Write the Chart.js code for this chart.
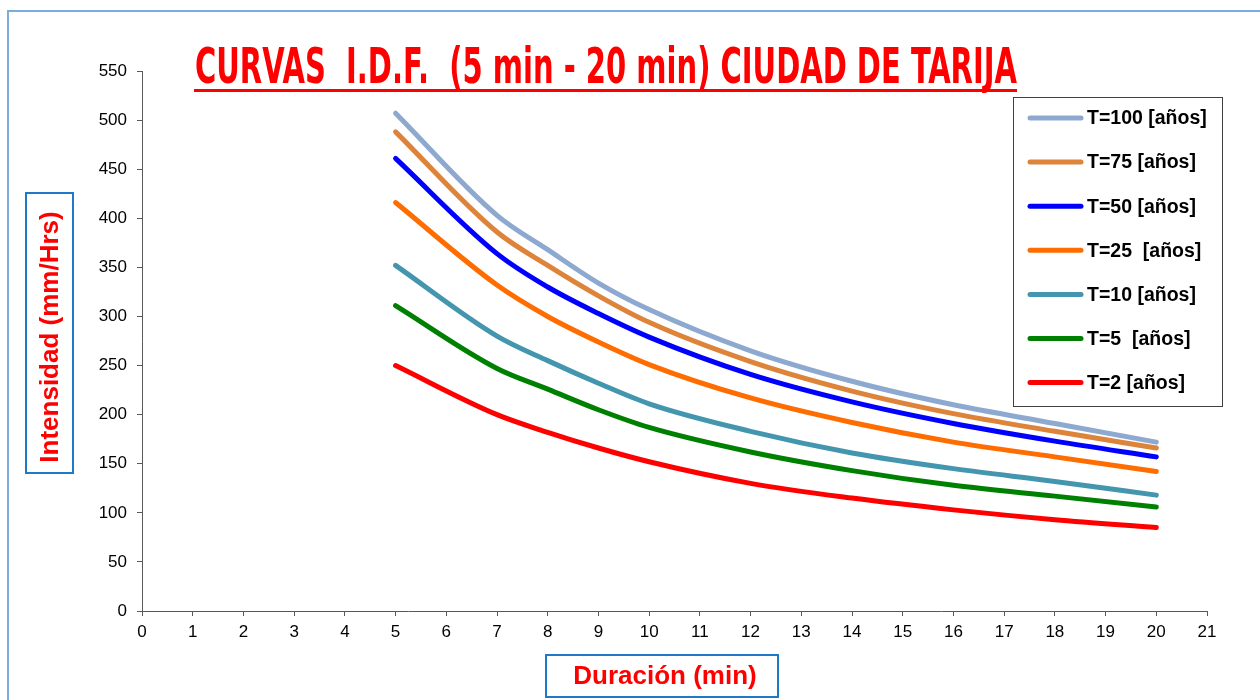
<!DOCTYPE html>
<html lang="es">
<head>
  <meta charset="UTF-8">
  <title>Curvas IDF - Tarija</title>
  <script src="https://cdn.jsdelivr.net/npm/chart.js"></script>
  <style>
    html, body { margin: 0; padding: 0; background: #fff; }
    #wrap { width: 1260px; height: 700px; position: relative; overflow: hidden; }
  </style>
</head>
<body>
<div id="wrap">
  <canvas id="idfChart" width="1260" height="700"></canvas>
</div>

<script>
  // Duraciones (min) y valores (mm/Hrs)
  const durations = [5, 7, 8, 9, 10, 12, 14, 16, 18, 20];
  const t100 = [507, 403, 368, 334, 307, 265, 234, 210, 191, 172];
  const t75  = [488, 386, 352, 321, 294, 254, 224, 201, 183, 166];
  const t50  = [461, 364, 330, 303, 279, 241, 213, 191, 173, 157];
  const t25  = [416, 332, 300, 274, 251, 217, 192, 172, 157, 142];
  const t10  = [352, 280, 255, 232, 211, 183, 161, 145, 132, 118];
  const t5   = [311, 247, 226, 205, 187, 162, 143, 128, 117, 106];
  const t2   = [250, 200, 182, 166, 152, 130, 115, 103, 93, 85];

  const seriesLabels = ['T=100 [años]', 'T=75 [años]', 'T=50 [años]', 'T=25  [años]',
                        'T=10 [años]', 'T=5  [años]', 'T=2 [años]'];
  const seriesColors = ['#8ea9d0', '#dd843a', '#0000ff', '#ff6c00', '#4396ae', '#008000', '#ff0000'];
  const seriesValues = [t100, t75, t50, t25, t10, t5, t2];

  const chartTitle = 'CURVAS  I.D.F.  (5 min - 20 min) CIUDAD DE TARIJA';
  const xTitle = 'Duración (min)';
  const yTitle = 'Intensidad (mm/Hrs)';

  const datasets = seriesValues.map((vals, i) => ({
    label: seriesLabels[i],
    data: durations.map((d, j) => ({ x: d, y: vals[j] })),
    borderColor: seriesColors[i],
    borderWidth: 5,
    borderCapStyle: 'round',
    borderJoinStyle: 'round',
    fill: false,
    pointRadius: 0,
    cubicInterpolationMode: 'monotone'
  }));

  const sans = '"Liberation Sans", Arial, sans-serif';

  // fondo, marco, titulo, cajas de titulos de eje y leyenda
  const decor = {
    id: 'decor',
    beforeDraw(chart) {
      const ctx = chart.ctx;
      ctx.save();
      ctx.fillStyle = '#fff';
      ctx.fillRect(0, 0, chart.width, chart.height);
      ctx.strokeStyle = '#7badde';
      ctx.lineWidth = 2;
      ctx.strokeRect(8, 11, 1400, 900);
      ctx.restore();
    },
    afterDraw(chart) {
      const ctx = chart.ctx;
      ctx.save();

      // titulo
      ctx.font = 'bold 50px "DejaVu Sans Condensed", "DejaVu Sans", sans-serif';
      const w = ctx.measureText(chartTitle).width;
      ctx.fillStyle = '#ff0000';
      ctx.textBaseline = 'alphabetic';
      ctx.save();
      ctx.translate(195, 83);
      ctx.scale(822 / w, 1);
      ctx.fillText(chartTitle, 0, 0);
      ctx.restore();
      ctx.fillRect(194, 89, 823, 3);

      // titulo eje Y
      ctx.strokeStyle = '#1f78c8';
      ctx.lineWidth = 2;
      ctx.strokeRect(26, 193, 47, 280);
      ctx.save();
      ctx.translate(51, 337);
      ctx.rotate(-Math.PI / 2);
      ctx.font = 'bold 26px ' + sans;
      ctx.textAlign = 'center';
      ctx.textBaseline = 'middle';
      ctx.fillStyle = '#ff0000';
      ctx.fillText(yTitle, 0, 0);
      ctx.restore();

      // titulo eje X
      ctx.strokeRect(546, 655, 232, 42);
      ctx.font = 'bold 26px ' + sans;
      ctx.textAlign = 'center';
      ctx.textBaseline = 'middle';
      ctx.fillStyle = '#ff0000';
      ctx.fillText(xTitle, 665, 677);

      // leyenda
      ctx.fillStyle = '#fff';
      ctx.fillRect(1013, 97, 209, 309);
      ctx.strokeStyle = '#404040';
      ctx.lineWidth = 1;
      ctx.strokeRect(1013.5, 97.5, 209, 309);
      ctx.font = 'bold 19.5px ' + sans;
      ctx.textAlign = 'left';
      ctx.textBaseline = 'middle';
      chart.data.datasets.forEach((ds, i) => {
        const y = 118 + i * 44.1;
        ctx.strokeStyle = ds.borderColor;
        ctx.lineWidth = 5;
        ctx.lineCap = 'round';
        ctx.beginPath();
        ctx.moveTo(1030, y);
        ctx.lineTo(1081, y);
        ctx.stroke();
        ctx.fillStyle = '#000';
        ctx.fillText(ds.label, 1087, y + 1);
      });

      ctx.restore();
    }
  };

  new Chart(document.getElementById('idfChart'), {
    type: 'line',
    data: { datasets },
    options: {
      responsive: false,
      animation: false,
      layout: { padding: { left: 0, top: 71, right: 53, bottom: 49 } },
      plugins: {
        legend: { display: false },
        tooltip: { enabled: false }
      },
      scales: {
        x: {
          type: 'linear',
          min: 0,
          max: 21,
          ticks: { stepSize: 1, color: '#000', font: { family: sans, size: 17 }, padding: 6, maxRotation: 0 },
          grid: { drawOnChartArea: false, tickLength: 5, color: '#595959' },
          border: { color: '#595959', width: 1 },
          afterFit: (s) => { s.height = 40; }
        },
        y: {
          min: 0,
          max: 550,
          ticks: { stepSize: 50, color: '#000', font: { family: sans, size: 17 }, padding: 10 },
          grid: { drawOnChartArea: false, tickLength: 5, color: '#595959' },
          border: { color: '#595959', width: 1 },
          afterFit: (s) => { s.width = 142; }
        }
      }
    },
    plugins: [decor]
  });
</script>
</body>
</html>
